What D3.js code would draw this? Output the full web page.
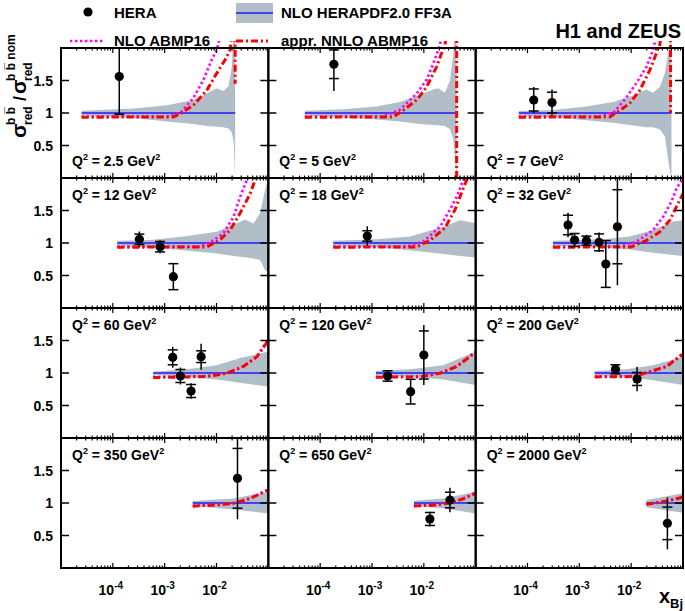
<!DOCTYPE html>
<html><head><meta charset="utf-8">
<script src="https://cdn.jsdelivr.net/npm/d3@7"></script>
<style>
body{margin:0;background:#fff}
svg{display:block}
text{font-family:"Liberation Sans",Arial,Helvetica,sans-serif;font-weight:bold;fill:#000}
</style>
</head><body>
<svg id="c" width="685" height="611"></svg>
<script>
// ---------------- data ----------------
const q2Values = ["2.5","5","7","12","18","32","60","120","200","350","650","2000"];

const bandX = [
  [2.5e-5,2.5e-4,1.1e-3,3.6e-3,6.5e-3,1.0e-2,1.36e-2,1.7e-2,1.97e-2,2.15e-2,2.29e-2],
  [5.07e-5,2.78e-4,1.22e-3,3.46e-3,8.4e-3,1.52e-2,1.9e-2,2.55e-2,3.19e-2,3.7e-2,3.98e-2,4.3e-2],
  [6.8e-5,3.1e-4,1.37e-3,4.47e-3,9.4e-3,1.97e-2,2.65e-2,3.56e-2,4.47e-2,5.42e-2,6.0e-2],
  [1.22e-4,5.2e-4,2.3e-3,1.01e-2,2.12e-2,3.56e-2,5.16e-2,6.95e-2,8.67e-2,1.0e-1],
  [1.79e-4,1.22e-3,5.4e-3,2.37e-2,4.98e-2,9.0e-2,1.0e-1],
  [3.1e-4,2.87e-3,9.4e-3,2.65e-2,6.44e-2,1.0e-1],
  [6.0e-4,2.67e-3,1.01e-2,2.86e-2,1.0e-1],
  [1.19e-3,5.4e-3,2.37e-2,1.0e-1],
  [1.98e-3,8.1e-3,2.65e-2,1.0e-1],
  [3.48e-3,2.12e-2,1.0e-1],
  [6.44e-3,2.37e-2,1.0e-1],
  [1.97e-2,1.0e-1]
];
const bandLo = [
  [0.965,0.925,0.87,0.83,0.80,0.79,0.78,0.76,0.70,0.55,0.0],
  [0.965,0.93,0.90,0.87,0.83,0.815,0.81,0.80,0.75,0.60,0.30,0.0],
  [0.96,0.933,0.89,0.85,0.815,0.78,0.78,0.75,0.64,0.17,0.0],
  [0.96,0.933,0.89,0.84,0.80,0.78,0.76,0.74,0.58,0.55],
  [0.96,0.933,0.89,0.83,0.80,0.78,0.78],
  [0.96,0.933,0.90,0.85,0.815,0.80],
  [0.975,0.944,0.90,0.85,0.79],
  [0.97,0.944,0.90,0.815],
  [0.964,0.944,0.89,0.815],
  [0.954,0.90,0.84],
  [0.954,0.92,0.84],
  [0.933,0.85]
];
const bandHi = [
  [1.035,1.07,1.12,1.20,1.30,1.38,1.34,1.41,1.70,2.3,2.3],
  [1.035,1.056,1.10,1.17,1.28,1.36,1.38,1.31,1.50,1.90,2.3,2.3],
  [1.03,1.046,1.10,1.17,1.25,1.36,1.31,1.40,1.61,2.02,2.3],
  [1.036,1.046,1.10,1.174,1.28,1.36,1.30,1.46,1.82,2.0],
  [1.036,1.056,1.10,1.25,1.35,1.31,1.32],
  [1.036,1.056,1.10,1.20,1.33,1.35],
  [1.02,1.056,1.12,1.23,1.33],
  [1.03,1.056,1.12,1.33],
  [1.03,1.056,1.12,1.25],
  [1.03,1.07,1.174],
  [1.036,1.07,1.174],
  [1.046,1.15]
];

const nloX = [
  [2.5e-5,1.1e-3,2.0e-3,3.58e-3,5.6e-3,8.1e-3,1.01e-2,1.25e-2],
  [5.07e-5,1.64e-3,3.46e-3,7.3e-3,1.13e-2,1.52e-2,1.9e-2,2.4e-2],
  [6.8e-5,2.48e-3,4.73e-3,7.94e-3,1.26e-2,1.97e-2,2.65e-2,3.2e-2],
  [1.22e-4,4.8e-3,8.7e-3,1.36e-2,2.12e-2,2.86e-2,3.85e-2,4.1e-2],
  [1.79e-4,4.66e-3,9.7e-3,2.05e-2,3.19e-2,4.3e-2,5.77e-2,6.2e-2],
  [3.1e-4,6.03e-3,1.26e-2,2.65e-2,4.13e-2,6.0e-2,7.5e-2,8.67e-2,1.0e-1],
  [6.0e-4,6.5e-3,1.58e-2,3.3e-2,6.0e-2,1.0e-1],
  [1.19e-3,8.4e-3,2.05e-2,4.3e-2,1.0e-1],
  [1.98e-3,1.09e-2,2.29e-2,4.8e-2,1.0e-1],
  [3.48e-3,1.01e-2,2.12e-2,4.46e-2,1.0e-1],
  [6.44e-3,1.52e-2,3.19e-2,5.77e-2,1.0e-1],
  [1.97e-2,5.0e-2,1.0e-1]
];
const nloY = [
  [0.945,0.945,1.0,1.23,1.51,1.82,1.97,2.25],
  [0.945,0.945,1.05,1.30,1.51,1.76,1.97,2.25],
  [0.945,0.945,1.02,1.23,1.46,1.71,1.97,2.25],
  [0.945,0.945,1.04,1.15,1.40,1.71,1.97,2.05],
  [0.945,0.945,1.02,1.25,1.51,1.71,1.97,2.05],
  [0.945,0.945,1.02,1.20,1.40,1.64,1.84,1.92,2.0],
  [0.94,0.95,1.0,1.10,1.25,1.53],
  [0.94,0.945,1.0,1.10,1.33],
  [0.945,0.95,1.02,1.10,1.30],
  [0.955,0.975,0.995,1.07,1.21],
  [0.96,0.97,1.0,1.07,1.16],
  [0.985,1.03,1.10]
];
const nnloX = [
  [2.5e-5,1.47e-3,2.1e-3,3.58e-3,6.5e-3,1.01e-2,1.47e-2,1.83e-2,2.05e-2,2.29e-2,2.29e-2],
  [5.07e-5,2.57e-3,4.0e-3,7.3e-3,1.13e-2,1.76e-2,2.2e-2,2.55e-2,3.0e-2,4.3e-2,4.3e-2],
  [6.8e-5,3.86e-3,6.03e-3,9.4e-3,1.47e-2,2.29e-2,3.07e-2,3.56e-2,4.1e-2,5.75e-2,5.75e-2],
  [1.22e-4,6.5e-3,1.17e-2,1.83e-2,2.86e-2,4.46e-2,5.56e-2,5.8e-2],
  [1.79e-4,7.3e-3,1.31e-2,2.55e-2,3.98e-2,4.98e-2,6.7e-2,7.0e-2],
  [3.1e-4,1.0e-2,1.97e-2,3.56e-2,5.56e-2,7.5e-2,1.0e-1],
  [6.0e-4,6.5e-3,1.58e-2,3.3e-2,6.0e-2,1.0e-1],
  [1.19e-3,8.4e-3,2.05e-2,4.3e-2,1.0e-1],
  [1.98e-3,1.09e-2,2.29e-2,4.8e-2,1.0e-1],
  [3.48e-3,1.01e-2,2.12e-2,4.46e-2,1.0e-1],
  [6.44e-3,1.52e-2,3.19e-2,5.77e-2,1.0e-1],
  [1.97e-2,5.0e-2,1.0e-1]
];
const nnloY = [
  [0.935,0.94,1.0,1.12,1.35,1.61,1.82,1.97,2.4,2.4,1.45],
  [0.935,0.94,1.04,1.20,1.40,1.71,1.92,2.05,2.4,2.4,-0.03],
  [0.935,0.94,1.04,1.15,1.35,1.66,1.92,2.05,2.4,2.4,1.0],
  [0.935,0.94,1.05,1.20,1.46,1.76,1.97,2.05],
  [0.935,0.94,1.04,1.23,1.51,1.71,1.97,2.05],
  [0.935,0.94,1.04,1.17,1.35,1.56,1.76],
  [0.93,0.945,0.995,1.10,1.25,1.50],
  [0.935,0.94,0.995,1.10,1.32],
  [0.94,0.945,1.02,1.10,1.29],
  [0.95,0.97,0.995,1.07,1.20],
  [0.955,0.965,1.0,1.065,1.15],
  [0.98,1.03,1.09]
];

const dataX = [
  [1.33e-4],[1.84e-4],[1.32e-4,2.97e-4],
  [3.25e-4,8.15e-4,1.47e-3],[8.1e-4],[6.05e-4,8.1e-4,1.37e-3,2.4e-3,3.24e-3,5.43e-3],
  [1.43e-3,2.01e-3,3.23e-3,5.05e-3],[2.0e-3,5.56e-3,1.0e-2],[4.98e-3,1.3e-2],
  [2.54e-2],[1.31e-2,3.19e-2],[5.0e-2]
];
const dataY = [
  [1.56],[1.75],[1.20,1.16],
  [1.057,0.943,0.482],[1.108],[1.277,1.046,1.036,1.01,0.677,1.25],
  [1.241,0.954,0.723,1.251],[0.954,0.713,1.277],[1.057,0.908],
  [1.38],[0.754,1.046],[0.687]
];
const dataStat = [
  [0.58],[0.22],[0.17,0.16],
  [0.08,0.08,0.20],[0.08],[0.15,0.10,0.07,0.13,0.36,0.57],
  [0.115,0.10,0.10,0.09],[0.08,0.19,0.37],[0.07,0.10],
  [0.46],[0.10,0.12],[0.25]
];
const dataTot = [
  [0.58],[0.41],[0.20,0.20],
  [0.12,0.10,0.20],[0.15],[0.19,0.11,0.09,0.15,0.36,0.90],
  [0.16,0.13,0.12,0.20],[0.09,0.19,0.46],[0.07,0.19],
  [0.63],[0.11,0.19],[0.40]
];

const yTickValues = [0.5, 1, 1.5];
const yTickLabels = ["0.5", "1", "1.5"];
const xTickValues = [1e-4, 1e-3, 1e-2];
const xTickExps = ["-4", "-3", "-2"];

// ---------------- layout ----------------
const gridLeft = 61, gridRight = 683, gridTop = 48, gridBottom = 568;
const nCols = 3, nRows = 4;
const colW = (gridRight - gridLeft) / nCols, rowH = (gridBottom - gridTop) / nRows;
const bandColor = "#b2bec7";
const svg = d3.select("#c");
const defs = svg.append("defs");
const gPlot = svg.append("g");
const gFrame = svg.append("g");

q2Values.forEach((q, i) => {
  const r = Math.floor(i / nCols), c = i % nCols;
  const x0 = gridLeft + c * colW, y0 = gridTop + r * rowH;
  const x = d3.scaleLog().domain([1e-5, 1e-1]).range([x0, x0 + colW]);
  const y = d3.scaleLinear().domain([0, 2]).range([y0 + rowH, y0]);
  const yc = d3.scaleLinear().domain([0, 2]).range([y0 + rowH, y0]).clamp(true);

  // top row: curves may poke slightly above the frame (as in the original)
  const over = r === 0 ? 7 : 0;
  defs.append("clipPath").attr("id", "clip" + i).append("rect")
    .attr("x", x0).attr("y", y0 - over).attr("width", colW).attr("height", rowH + over);
  const g = gPlot.append("g").attr("clip-path", "url(#clip" + i + ")");

  const bx = bandX[i];
  const area = d3.area()
    .x((d, k) => x(bx[k]))
    .y0((d, k) => y(bandLo[i][k]))
    .y1((d, k) => y(bandHi[i][k]));
  g.append("path").datum(bx).attr("d", area).attr("fill", bandColor);

  g.append("line")
    .attr("x1", x(bx[0])).attr("x2", x(bx[bx.length - 1]))
    .attr("y1", y(1)).attr("y2", y(1))
    .attr("stroke", "#1a1aff").attr("stroke-width", 1.7);

  const mk = (xs, ys) => d3.line().x((d, k) => x(xs[k])).y((d, k) => y(ys[k]))(xs);
  g.append("path").attr("d", mk(nloX[i], nloY[i]))
    .attr("fill", "none").attr("stroke", "#ff00ff").attr("stroke-width", 2.6)
    .attr("stroke-dasharray", "2.4,2.6");
  g.append("path").attr("d", mk(nnloX[i], nnloY[i]))
    .attr("fill", "none").attr("stroke", "#ff0000").attr("stroke-width", 3)
    .attr("stroke-dasharray", "7,3,2,3");

  const gd = gPlot.append("g");
  dataX[i].forEach((xv, k) => {
    const yv = dataY[i][k], st = dataStat[i][k], tt = dataTot[i][k];
    const px = x(xv);
    gd.append("line").attr("x1", px).attr("x2", px)
      .attr("y1", yc(yv - tt)).attr("y2", yc(yv + tt))
      .attr("stroke", "#000").attr("stroke-width", 1.5);
    [yv - st, yv + st].forEach(e => {
      if (e >= 0 && e <= 2) {
        gd.append("line").attr("x1", px - 5).attr("x2", px + 5)
          .attr("y1", y(e)).attr("y2", y(e))
          .attr("stroke", "#000").attr("stroke-width", 1.5);
      }
    });
    gd.append("circle").attr("cx", px).attr("cy", y(yv)).attr("r", 4.6).attr("fill", "#000");
  });

  const f = gFrame.append("g");
  f.append("rect").attr("x", x0).attr("y", y0).attr("width", colW).attr("height", rowH)
    .attr("fill", "none").attr("stroke", "#000").attr("stroke-width", 2);
  for (let d = -5; d <= -2; d++) {
    for (let m = 1; m <= 9; m++) {
      const v = m * Math.pow(10, d);
      const px = x(v);
      const len = m === 1 ? 5 : 2.5;
      f.append("line").attr("x1", px).attr("x2", px).attr("y1", y0 + rowH).attr("y2", y0 + rowH - len)
        .attr("stroke", "#000").attr("stroke-width", 1.2);
      f.append("line").attr("x1", px).attr("x2", px).attr("y1", y0).attr("y2", y0 + len)
        .attr("stroke", "#000").attr("stroke-width", 1.2);
    }
  }
  yTickValues.forEach(v => {
    f.append("line").attr("x1", x0).attr("x2", x0 + 8).attr("y1", y(v)).attr("y2", y(v))
      .attr("stroke", "#000").attr("stroke-width", 1.5);
    f.append("line").attr("x1", x0 + colW).attr("x2", x0 + colW - 8).attr("y1", y(v)).attr("y2", y(v))
      .attr("stroke", "#000").attr("stroke-width", 1.5);
  });

  const ly = r === 0 ? y0 + rowH - 12 : y0 + 22;
  const t = f.append("text").attr("x", x0 + 11).attr("y", ly).attr("font-size", 14);
  t.append("tspan").text("Q");
  t.append("tspan").attr("dy", -6).attr("font-size", 9).text("2");
  t.append("tspan").attr("dy", 6).text(" = " + q + " GeV");
  t.append("tspan").attr("dy", -6).attr("font-size", 9).text("2");

  if (c === 0) {
    yTickValues.forEach((v, k) => {
      f.append("text").attr("x", x0 - 8).attr("y", y(v) + 5).attr("text-anchor", "end")
        .attr("font-size", 14).text(yTickLabels[k]);
    });
  }
  if (r === nRows - 1) {
    xTickValues.forEach((v, k) => {
      const tt = f.append("text").attr("x", x(v) - 2).attr("y", y0 + rowH + 27)
        .attr("text-anchor", "middle").attr("font-size", 14);
      tt.append("tspan").text("10");
      tt.append("tspan").attr("dy", -6).attr("font-size", 10).text(xTickExps[k]);
    });
  }
});

// x axis title
const xt = svg.append("text").attr("x", 683).attr("y", 603).attr("text-anchor", "end").attr("font-size", 20);
xt.append("tspan").text("x");
xt.append("tspan").attr("dy", 5).attr("font-size", 13).text("Bj");

// y axis title (rotated)
const yg = svg.append("g").attr("transform", "translate(26,138) rotate(-90)");
yg.append("text").attr("x", 0).attr("y", 0).attr("font-size", 21).text("σ");
yg.append("text").attr("x", 13).attr("y", -11).attr("font-size", 12).text("b b\u0305");
yg.append("text").attr("x", 13).attr("y", 6).attr("font-size", 12).text("red");
yg.append("text").attr("x", 37).attr("y", 0).attr("font-size", 18).text("/");
yg.append("text").attr("x", 44).attr("y", 0).attr("font-size", 21).text("σ");
yg.append("text").attr("x", 57).attr("y", -11).attr("font-size", 12).text("b b\u0305 nom");
yg.append("text").attr("x", 57).attr("y", 6).attr("font-size", 12).text("red");

// legend
const lg = svg.append("g");
lg.append("circle").attr("cx", 88).attr("cy", 12).attr("r", 4.6).attr("fill", "#000");
lg.append("text").attr("x", 114).attr("y", 18).attr("font-size", 15).text("HERA");
lg.append("line").attr("x1", 70).attr("x2", 105).attr("y1", 41).attr("y2", 41)
  .attr("stroke", "#ff00ff").attr("stroke-width", 2.6).attr("stroke-dasharray", "2.4,2.6");
lg.append("text").attr("x", 114).attr("y", 46).attr("font-size", 15).text("NLO ABMP16");
lg.append("rect").attr("x", 236).attr("y", 3).attr("width", 37).attr("height", 20).attr("fill", bandColor);
lg.append("line").attr("x1", 236).attr("x2", 273).attr("y1", 13).attr("y2", 13)
  .attr("stroke", "#1a1aff").attr("stroke-width", 1.7);
lg.append("text").attr("x", 281).attr("y", 18).attr("font-size", 15).text("NLO HERAPDF2.0 FF3A");
lg.append("line").attr("x1", 236).attr("x2", 268).attr("y1", 41).attr("y2", 41)
  .attr("stroke", "#ff0000").attr("stroke-width", 3).attr("stroke-dasharray", "7,3,2,3");
lg.append("text").attr("x", 281).attr("y", 46).attr("font-size", 15).text("appr. NNLO ABMP16");

svg.append("text").attr("x", 681).attr("y", 38).attr("text-anchor", "end").attr("font-size", 20).text("H1 and ZEUS");
</script>
</body></html>
